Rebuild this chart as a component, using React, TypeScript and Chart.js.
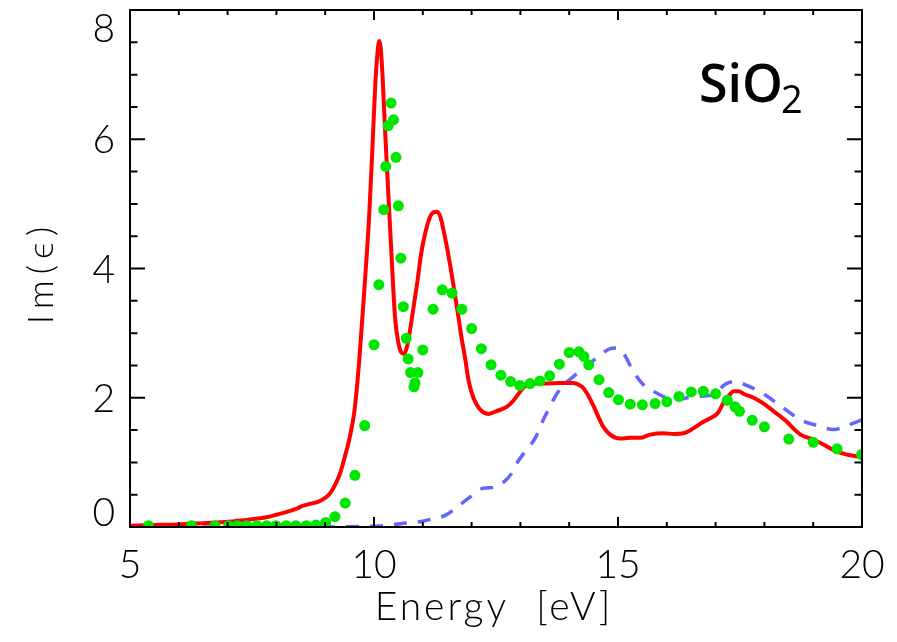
import React, { useEffect, useRef } from 'react';
import { Chart, registerables } from 'chart.js';

Chart.register(...registerables);

// ---- Data ----
const redEnergy = [5.0, 5.5, 6.0, 6.5, 7.0, 7.5, 7.8, 8.0, 8.2, 8.4, 8.55, 8.7, 8.85, 9.0, 9.1, 9.2, 9.3, 9.4, 9.5, 9.6, 9.7, 9.8, 9.9, 9.97, 10.03, 10.08, 10.11, 10.14, 10.18, 10.22, 10.27, 10.32, 10.38, 10.43, 10.5, 10.56, 10.62, 10.68, 10.75, 10.82, 10.89, 10.96, 11.05, 11.15, 11.22, 11.29, 11.36, 11.45, 11.55, 11.63, 11.72, 11.8, 11.87, 11.93, 12.0, 12.1, 12.2, 12.35, 12.5, 12.72, 12.85, 13.0, 13.1, 13.27, 13.5, 13.82, 14.09, 14.2, 14.29, 14.4, 14.5, 14.6, 14.7, 14.84, 15.04, 15.25, 15.45, 15.66, 15.93, 16.15, 16.34, 16.55, 16.75, 16.96, 17.06, 17.16, 17.27, 17.37, 17.47, 17.6, 17.78, 18.0, 18.19, 18.46, 18.6, 18.74, 19.01, 19.2, 19.42, 19.6, 19.76, 20.0];
const redValues = [0.02, 0.03, 0.04, 0.06, 0.08, 0.12, 0.15, 0.19, 0.23, 0.28, 0.33, 0.36, 0.39, 0.45, 0.52, 0.65, 0.82, 1.08, 1.38, 1.8, 2.6, 3.65, 4.8, 5.9, 6.9, 7.4, 7.52, 7.4, 6.9, 6.25, 5.5, 4.77, 3.9, 3.25, 2.85, 2.7, 2.68, 2.8, 3.1, 3.45, 3.8, 4.2, 4.55, 4.8, 4.87, 4.88, 4.8, 4.5, 4.1, 3.73, 3.3, 2.9, 2.6, 2.3, 2.08, 1.9, 1.8, 1.75, 1.79, 1.86, 1.95, 2.1, 2.18, 2.22, 2.22, 2.23, 2.23, 2.2, 2.15, 2.02, 1.87, 1.7, 1.55, 1.43, 1.37, 1.38, 1.38, 1.43, 1.45, 1.44, 1.45, 1.53, 1.63, 1.71, 1.78, 1.92, 2.03, 2.1, 2.1, 2.05, 2.0, 1.9, 1.79, 1.63, 1.52, 1.43, 1.35, 1.28, 1.19, 1.14, 1.11, 1.08];

const blueEnergy = [5.0, 6.0, 7.0, 8.0, 9.0, 9.8, 10.2, 10.54, 11.0, 11.22, 11.46, 11.77, 12.0, 12.24, 12.45, 12.6, 12.82, 12.93, 13.13, 13.3, 13.47, 13.8, 14.09, 14.3, 14.6, 14.84, 14.95, 15.1, 15.32, 15.52, 15.8, 16.14, 16.6, 16.96, 17.2, 17.4, 17.64, 17.98, 18.32, 18.74, 19.08, 19.42, 19.63, 19.8, 20.0];
const blueValues = [0.0, 0.0, 0.0, 0.0, 0.0, 0.01, 0.02, 0.05, 0.09, 0.13, 0.18, 0.35, 0.48, 0.6, 0.61, 0.66, 0.83, 0.99, 1.2, 1.37, 1.66, 2.12, 2.33, 2.45, 2.64, 2.76, 2.77, 2.7, 2.4, 2.2, 2.07, 1.97, 2.02, 2.05, 2.21, 2.25, 2.19, 2.06, 1.88, 1.66, 1.57, 1.51, 1.55, 1.6, 1.66];

const greenEnergy = [5.38, 6.26, 6.74, 7.02, 7.2, 7.39, 7.6, 7.8, 7.99, 8.2, 8.4, 8.61, 8.81, 9.01, 9.2, 9.41, 9.61, 9.81, 10.0, 10.1, 10.2, 10.24, 10.29, 10.35, 10.4, 10.45, 10.5, 10.55, 10.6, 10.66, 10.7, 10.75, 10.82, 10.84, 10.9, 11.0, 11.21, 11.4, 11.6, 11.8, 12.0, 12.2, 12.4, 12.6, 12.8, 12.99, 13.2, 13.4, 13.6, 13.8, 14.0, 14.2, 14.3, 14.4, 14.61, 14.81, 15.01, 15.25, 15.5, 15.76, 16.0, 16.25, 16.5, 16.75, 17.0, 17.24, 17.4, 17.49, 17.75, 18.0, 18.5, 19.0, 19.49, 19.99];
const greenValues = [0.02, 0.02, 0.02, 0.02, 0.02, 0.02, 0.02, 0.02, 0.02, 0.02, 0.02, 0.02, 0.03, 0.07, 0.16, 0.37, 0.8, 1.57, 2.82, 3.75, 4.91, 5.58, 6.21, 6.56, 6.3, 5.72, 4.97, 4.16, 3.41, 2.92, 2.6, 2.39, 2.17, 2.23, 2.39, 2.74, 3.37, 3.67, 3.62, 3.37, 3.07, 2.76, 2.51, 2.35, 2.25, 2.19, 2.22, 2.26, 2.34, 2.52, 2.7, 2.71, 2.64, 2.51, 2.28, 2.08, 1.97, 1.9, 1.89, 1.91, 1.94, 2.02, 2.09, 2.1, 2.06, 1.96, 1.86, 1.79, 1.65, 1.55, 1.36, 1.31, 1.21, 1.12];

const xMajorTicks = [5, 10, 15, 20];
const xTickLabels = ['5', '10', '15', '20'];
const xMinorTicks = [6, 7, 8, 9, 11, 12, 13, 14, 16, 17, 18, 19];
const yMajorTicks = [0, 2, 4, 6, 8];
const yTickLabels = ['0', '2', '4', '6', '8'];
const yMinorTicks = [0.5, 1, 1.5, 2.5, 3, 3.5, 4.5, 5, 5.5, 6.5, 7, 7.5];
const xTitle = 'Energy  [eV]';
const yTitle = 'Im(\u03F5)';
const labelMain = 'SiO';
const labelSub = '2';

const AXIS_FONT = '"Lato", "DejaVu Sans", sans-serif';
const LABEL_FONT = '"Open Sans", "Noto Sans", sans-serif';

const framePlugin = {
  id: 'idlFrame',
  afterDatasetsDraw(chart: any) {
    const { ctx, chartArea: a, scales } = chart;
    const xs = scales.x;
    const ys = scales.y;
    ctx.save();
    ctx.strokeStyle = '#000';
    ctx.lineWidth = 2;
    ctx.strokeRect(a.left, a.top, a.right - a.left, a.bottom - a.top);
    ctx.beginPath();
    const xt = (v: number, len: number) => {
      const px = xs.getPixelForValue(v);
      ctx.moveTo(px, a.bottom);
      ctx.lineTo(px, a.bottom - len);
      ctx.moveTo(px, a.top);
      ctx.lineTo(px, a.top + len);
    };
    const yt = (v: number, len: number) => {
      const py = ys.getPixelForValue(v);
      ctx.moveTo(a.left, py);
      ctx.lineTo(a.left + len, py);
      ctx.moveTo(a.right, py);
      ctx.lineTo(a.right - len, py);
    };
    xMajorTicks.forEach((v) => xt(v, 10));
    xMinorTicks.forEach((v) => xt(v, 5));
    yMajorTicks.forEach((v) => yt(v, 15));
    yMinorTicks.forEach((v) => yt(v, 7.5));
    ctx.stroke();

    ctx.fillStyle = '#000';
    ctx.font = `300 39px ${AXIS_FONT}`;
    ctx.textBaseline = 'alphabetic';
    // x tick labels
    ctx.textAlign = 'center';
    xMajorTicks.forEach((v, i) => {
      ctx.fillText(xTickLabels[i], xs.getPixelForValue(v), a.bottom + 51);
    });
    // y tick labels (end labels kept inside the frame height)
    ctx.textAlign = 'right';
    yMajorTicks.forEach((v, i) => {
      let c = ys.getPixelForValue(v);
      c = Math.max(a.top + 18, Math.min(a.bottom - 15, c));
      ctx.fillText(yTickLabels[i], a.left - 15, c + 14);
    });
    // x title
    ctx.textAlign = 'center';
    (ctx as any).letterSpacing = '3px';
    ctx.fillText(xTitle, (a.left + a.right) / 2 - 2, a.bottom + 93);
    // y title
    ctx.save();
    ctx.translate(53, (a.top + a.bottom) / 2 + 4);
    ctx.rotate(-Math.PI / 2);
    (ctx as any).letterSpacing = '6px';
    ctx.font = `300 36px ${AXIS_FONT}`;
    ctx.fillText(yTitle, 0, 0);
    ctx.restore();
    (ctx as any).letterSpacing = '0px';

    // material label
    ctx.textAlign = 'left';
    ctx.font = `600 52px ${LABEL_FONT}`;
    ctx.fillText(labelMain, 699, 101.5);
    const w = ctx.measureText(labelMain).width;
    ctx.font = `500 38px ${LABEL_FONT}`;
    ctx.fillText(labelSub, 697 + w, 113);
    ctx.restore();
  },
};

const toPoints = (xs: number[], ys: number[]) => xs.map((x, i) => ({ x, y: ys[i] }));

export default function App() {
  const canvasRef = useRef<HTMLCanvasElement | null>(null);

  useEffect(() => {
    const canvas = canvasRef.current;
    if (!canvas) return;
    const chart = new Chart(canvas, {
      type: 'line',
      data: {
        datasets: [
          {
            label: 'experiment',
            data: toPoints(greenEnergy, greenValues),
            showLine: false,
            pointRadius: 5.5,
            pointBackgroundColor: '#00e600',
            pointBorderWidth: 0,
            borderColor: '#00e600',
            clip: 0,
          } as any,
          {
            label: 'calc',
            data: toPoints(redEnergy, redValues),
            borderColor: '#ff0000',
            borderWidth: 4,
            pointRadius: 0,
            cubicInterpolationMode: 'monotone',
            fill: false,
            clip: 0,
          } as any,
          {
            label: 'calc2',
            data: toPoints(blueEnergy, blueValues),
            borderColor: '#6464ff',
            borderWidth: 3.5,
            borderDash: [13, 11],
            pointRadius: 0,
            cubicInterpolationMode: 'monotone',
            fill: false,
            clip: 0,
          } as any,
        ],
      },
      options: {
        animation: false,
        responsive: false,
        maintainAspectRatio: false,
        devicePixelRatio: 1,
        layout: { padding: { left: 130, right: 35, top: 10, bottom: 115 } },
        plugins: { legend: { display: false }, tooltip: { enabled: false }, title: { display: false } },
        scales: {
          x: { type: 'linear', min: 5, max: 20, display: false },
          y: { type: 'linear', min: 0, max: 8, display: false },
        },
      },
      plugins: [framePlugin],
    });
    return () => chart.destroy();
  }, []);

  return (
    <div style={{ position: 'absolute', left: 0, top: 0, width: 897, height: 642, background: '#fff' }}>
      <canvas ref={canvasRef} width={897} height={642} />
    </div>
  );
}
